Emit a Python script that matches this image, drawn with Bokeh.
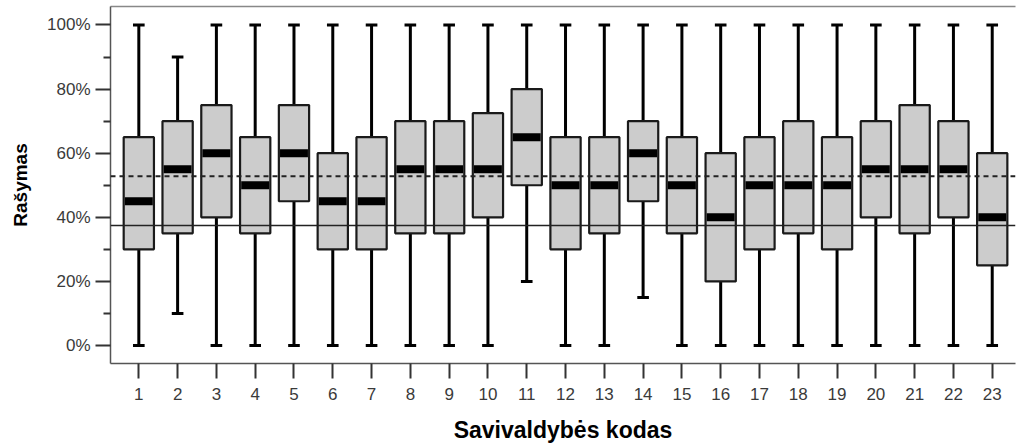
from bokeh.plotting import figure
from bokeh.models import Range1d, FixedTicker, LinearAxis, Span
from bokeh.embed import file_html
from bokeh.resources import INLINE

categories = [str(i) for i in range(1, 24)]
q1 =     [30, 35, 40, 35, 45, 30, 30, 35, 35, 40, 50, 30, 35, 45, 35, 20, 30, 35, 30, 40, 35, 40, 25]
median = [45, 55, 60, 50, 60, 45, 45, 55, 55, 55, 65, 50, 50, 60, 50, 40, 50, 50, 50, 55, 55, 55, 40]
q3 =     [65, 70, 75, 65, 75, 60, 65, 70, 70, 72.5, 80, 65, 65, 70, 65, 60, 65, 70, 65, 70, 75, 70, 60]
low =    [0, 10, 0, 0, 0, 0, 0, 0, 0, 0, 20, 0, 0, 15, 0, 0, 0, 0, 0, 0, 0, 0, 0]
high =   [100, 90, 100, 100, 100, 100, 100, 100, 100, 100, 100, 100, 100, 100, 100, 100, 100, 100, 100, 100, 100, 100, 100]
solid_ref = 37.4
dashed_ref = 52.8
y_ticks = [0, 20, 40, 60, 80, 100]
y_tick_labels = ["0%", "20%", "40%", "60%", "80%", "100%"]
x_title = "Savivaldybės kodas"
y_title = "Rašymas"

xs = list(range(1, len(categories) + 1))
bw = 0.78
cw = 0.3

p = figure(width=1016, height=448, output_backend="svg", toolbar_location=None,
           x_range=Range1d(0.27, 23.6), y_range=Range1d(-5.62, 105.77),
           min_border_left=110, min_border_right=1, min_border_top=6, min_border_bottom=85,
           x_axis_location=None, y_axis_location=None)
p.outline_line_color = None
p.grid.visible = False
p.background_fill_color = "white"

font = "Liberation Sans"

xaxis = LinearAxis(ticker=FixedTicker(ticks=xs),
                   major_label_overrides={x: c for x, c in zip(xs, categories)},
                   axis_label=x_title)
yaxis = LinearAxis(ticker=FixedTicker(ticks=y_ticks, minor_ticks=[10, 30, 50, 70, 90]),
                   major_label_overrides={t: l for t, l in zip(y_ticks, y_tick_labels)},
                   axis_label=y_title)
top = LinearAxis(ticker=FixedTicker(ticks=[]), major_tick_out=0, major_tick_in=0,
                 minor_tick_out=0, minor_tick_in=0, major_label_text_font_size="0px",
                 major_label_standoff=0, axis_label_standoff=0)
for ax in (xaxis, yaxis, top):
    ax.axis_line_color = "#555555"
    ax.axis_line_width = 1.5
for ax in (xaxis, yaxis):
    ax.major_tick_out = 15
    ax.major_tick_in = 0
    ax.minor_tick_in = 0
    ax.major_tick_line_color = "#333333"
    ax.major_tick_line_width = 2
    ax.minor_tick_line_color = "#333333"
    ax.minor_tick_line_width = 2
    ax.major_label_text_font = font
    ax.major_label_text_font_size = "17px"
    ax.major_label_text_color = "#3a3a3a"
    ax.axis_label_text_font = font
    ax.axis_label_text_font_style = "bold"
    ax.axis_label_text_color = "black"
yaxis.minor_tick_out = 7
xaxis.minor_tick_out = 0
yaxis.major_label_standoff = 5
xaxis.major_label_standoff = 9
yaxis.axis_label_text_font_size = "19px"
xaxis.axis_label_text_font_size = "23px"
yaxis.axis_label_standoff = 13
xaxis.axis_label_standoff = 14
top.axis_line_color = "#888888"

p.add_layout(xaxis, "below")
p.add_layout(yaxis, "left")
p.add_layout(top, "above")

# whiskers
p.segment(x0=xs, y0=q3, x1=xs, y1=high, line_color="black", line_width=3)
p.segment(x0=xs, y0=q1, x1=xs, y1=low, line_color="black", line_width=3)
p.segment(x0=[x - cw / 2 for x in xs], y0=high, x1=[x + cw / 2 for x in xs], y1=high,
          line_color="black", line_width=3)
p.segment(x0=[x - cw / 2 for x in xs], y0=low, x1=[x + cw / 2 for x in xs], y1=low,
          line_color="black", line_width=3)
# boxes
p.quad(left=[x - bw / 2 for x in xs], right=[x + bw / 2 for x in xs], bottom=q1, top=q3,
       fill_color="#cccccc", line_color="#1a1a1a", line_width=2.2)
# medians
p.segment(x0=[x - bw / 2 + 0.03 for x in xs], y0=median, x1=[x + bw / 2 - 0.03 for x in xs],
          y1=median, line_color="black", line_width=8, line_cap="butt")

p.add_layout(Span(location=solid_ref, dimension="width", line_color="#222222", line_width=1.5))
p.add_layout(Span(location=dashed_ref, dimension="width", line_color="#222222", line_width=1.8,
                  line_dash="5 4"))

open("out.html", "w").write(file_html(p, INLINE))
